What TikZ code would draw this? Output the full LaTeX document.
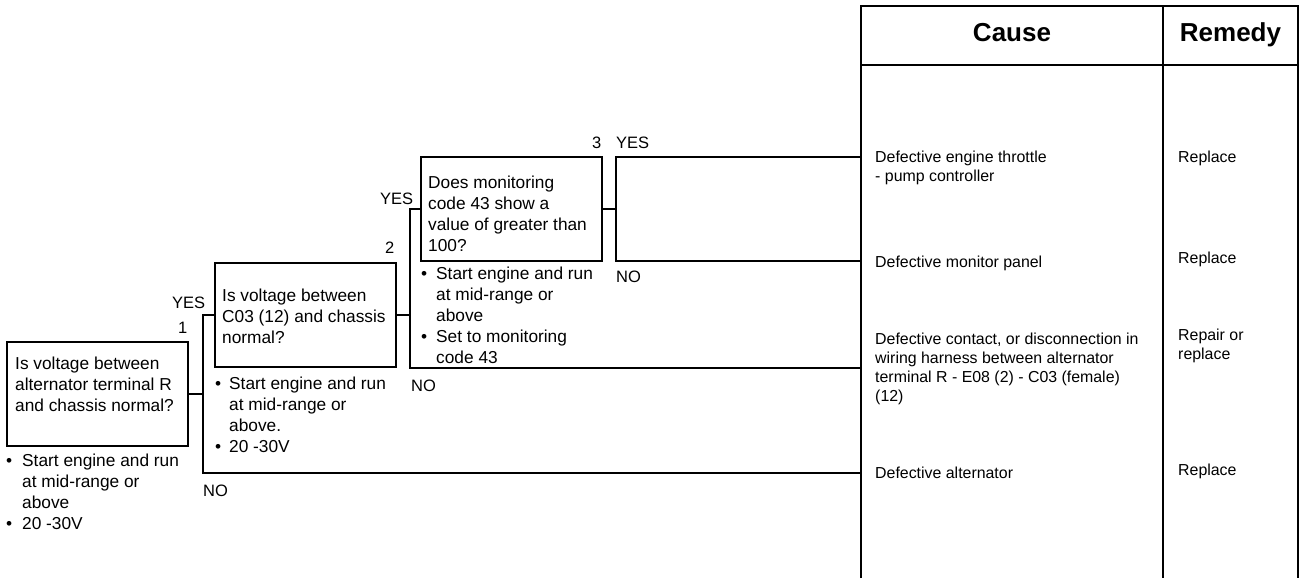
\documentclass[tikz,border=0pt]{standalone}
\usepackage{fontspec}
\setmainfont{Liberation Sans}
\newcommand{\bul}[1]{\makebox[#1][l]{•}}
\begin{document}
\begin{tikzpicture}[x=1pt,y=-1pt,
  line/.style={line width=1.3pt},
  qbox/.style={draw,line width=1.3pt,minimum width=181pt,minimum height=104pt,inner sep=0pt},
  txt/.style={anchor=base west,inner sep=0pt,align=left,font=\fontsize{17.3}{21}\selectfont},
  lbl/.style={anchor=base west,inner sep=0pt,font=\fontsize{16.5}{20}\selectfont},
  ctxt/.style={anchor=base west,inner sep=0pt,align=left,font=\fontsize{15.9}{19.2}\selectfont},
  head/.style={anchor=base,inner sep=0pt,font=\fontsize{26}{30}\selectfont\bfseries}]
\useasboundingbox (0,0) rectangle (1303,583);
% table
\coordinate (tTL) at (861,6);
\coordinate (tBL) at (861,578);
\coordinate (tTM) at (1163,6);
\coordinate (tBM) at (1163,578);
\coordinate (tTR) at (1298,6);
\coordinate (tBR) at (1298,578);
\coordinate (hL) at (861,65);
\coordinate (hR) at (1298,65);
\draw[line] (tBL) -- (tTL) -- (tTR) -- (tBR);
\draw[line] (tTM) -- (tBM);
\draw[line] (hL) -- (hR);
\node[head] (hc) at (1012,42) {Cause};
\node[head] (hr) at (1230.5,42) {Remedy};
% boxes
\node[qbox] (b1) at (97.5,394) {};
\node[qbox] (b2) at (305.5,315) {};
\node[qbox] (b3) at (511.5,209) {};
% (base anchor of a multi-line node = baseline of its last line)
\node[txt] (q1) at (15,411) {Is voltage between\\alternator terminal R\\and chassis normal?};
\node[txt] (q2) at (222,343) {Is voltage between\\C03 (12) and chassis\\normal?};
\node[txt] (q3) at (428,251) {Does monitoring\\code 43 show a\\value of greater than\\100?};
\node[txt] (n1) at (6,529) {\bul{16pt}Start engine and run\\\hspace*{16pt}at mid-range or\\\hspace*{16pt}above\\\bul{16pt}20 -30V};
\node[txt] (n2) at (215,452) {\bul{14pt}Start engine and run\\\hspace*{14pt}at mid-range or\\\hspace*{14pt}above.\\\bul{14pt}20 -30V};
\node[txt] (n3) at (421,363) {\bul{15pt}Start engine and run\\\hspace*{15pt}at mid-range or\\\hspace*{15pt}above\\\bul{15pt}Set to monitoring\\\hspace*{15pt}code 43};
% labels
\node[lbl] (y1) at (172,308) {YES};
\node[lbl] (k1) at (178,333) {1};
\node[lbl] (k2) at (385,253) {2};
\node[lbl] (y2) at (380,204) {YES};
\node[lbl] (k3) at (592,148) {3};
\node[lbl] (y3) at (616,148) {YES};
\node[lbl] (no3) at (616,282) {NO};
\node[lbl] (no2) at (411,391) {NO};
\node[lbl] (no1) at (203,496) {NO};
% connectors
\coordinate (j1) at (203,394);
\coordinate (j1t) at (203,315);
\coordinate (j1b) at (203,473);
\coordinate (e1) at (861,473);
\coordinate (j2) at (410,315);
\coordinate (j2t) at (410,209);
\coordinate (j2b) at (410,368);
\coordinate (e2) at (861,368);
\coordinate (j3) at (616,209);
\coordinate (j3t) at (616,157);
\coordinate (j3b) at (616,261);
\coordinate (e3t) at (861,157);
\coordinate (e3b) at (861,261);
\draw[line] (b1.east) -- (j1);
\draw[line] (b2.west) -- (j1t) -- (j1b) -- (e1);
\draw[line] (b2.east) -- (j2);
\draw[line] (b3.west) -- (j2t) -- (j2b) -- (e2);
\draw[line] (b3.east) -- (j3);
\draw[line] (e3t) -- (j3t) -- (j3b) -- (e3b);
% causes and remedies
\node[ctxt] (c1) at (875,181.2) {Defective engine throttle\\- pump controller};
\node[ctxt] (r1) at (1178,162) {Replace};
\node[ctxt] (c2) at (875,267) {Defective monitor panel};
\node[ctxt] (r2) at (1178,263) {Replace};
\node[ctxt] (c3) at (875,401.6) {Defective contact, or disconnection in\\wiring harness between alternator\\terminal R - E08 (2) - C03 (female)\\(12)};
\node[ctxt] (r3) at (1178,359.2) {Repair or\\replace};
\node[ctxt] (c4) at (875,478) {Defective alternator};
\node[ctxt] (r4) at (1178,475) {Replace};
\end{tikzpicture}
\end{document}
